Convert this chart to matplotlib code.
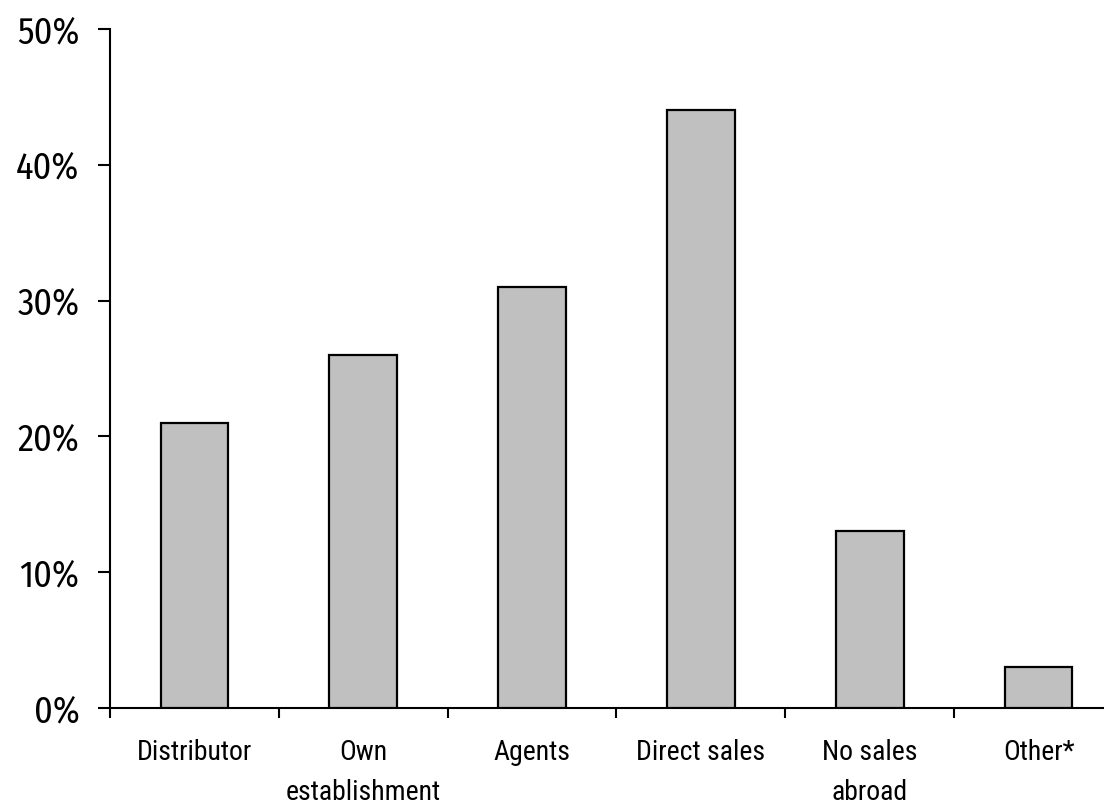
import matplotlib
matplotlib.use("Agg")
import matplotlib.pyplot as plt
from matplotlib.ticker import FuncFormatter

# share of companies by channel used for sales abroad
categories = ["Distributor", "Own\nestablishment", "Agents", "Direct sales",
              "No sales\nabroad", "Other*"]
shares = [21, 26, 31, 44, 13, 3]
y_ticks = [0, 10, 20, 30, 40, 50]

cat_font = ["Roboto Condensed", "DejaVu Sans"]
pct_font = ["Fira Sans Condensed", "DejaVu Sans"]

fig = plt.figure(figsize=(11.04, 8.11), dpi=100)
ax = fig.add_axes([110 / 1104, 103 / 811, 1013 / 1104, 679 / 811])

x = range(len(categories))
ax.bar(x, shares, width=0.40, color="#c0c0c0", edgecolor="black", linewidth=1.6,
       zorder=3)

ax.set_xlim(-0.5, len(categories) - 0.5)
ax.set_ylim(0, 50)
ax.set_yticks(y_ticks)
ax.yaxis.set_major_formatter(FuncFormatter(lambda v, p: f"{v:.0f}%"))

# category boundaries carry the x ticks, labels sit centred under bars
ax.set_xticks([i - 0.5 for i in range(len(categories))])
ax.set_xticklabels([])
ax.set_xticks(list(x), minor=True)
ax.set_xticklabels(categories, minor=True, fontfamily=cat_font, fontsize=20,
                   linespacing=1.65)
ax.tick_params(axis="x", which="minor", length=0, pad=22)
ax.tick_params(axis="x", which="major", length=7, width=1.5, direction="out")
ax.tick_params(axis="y", length=9, width=1.5, direction="out", pad=13)
for lbl in ax.get_yticklabels():
    lbl.set_fontfamily(pct_font)
    lbl.set_fontsize(26)

for side in ("top", "right"):
    ax.spines[side].set_visible(False)
for side in ("left", "bottom"):
    ax.spines[side].set_linewidth(1.5)

fig.savefig("out.png", dpi=100)
